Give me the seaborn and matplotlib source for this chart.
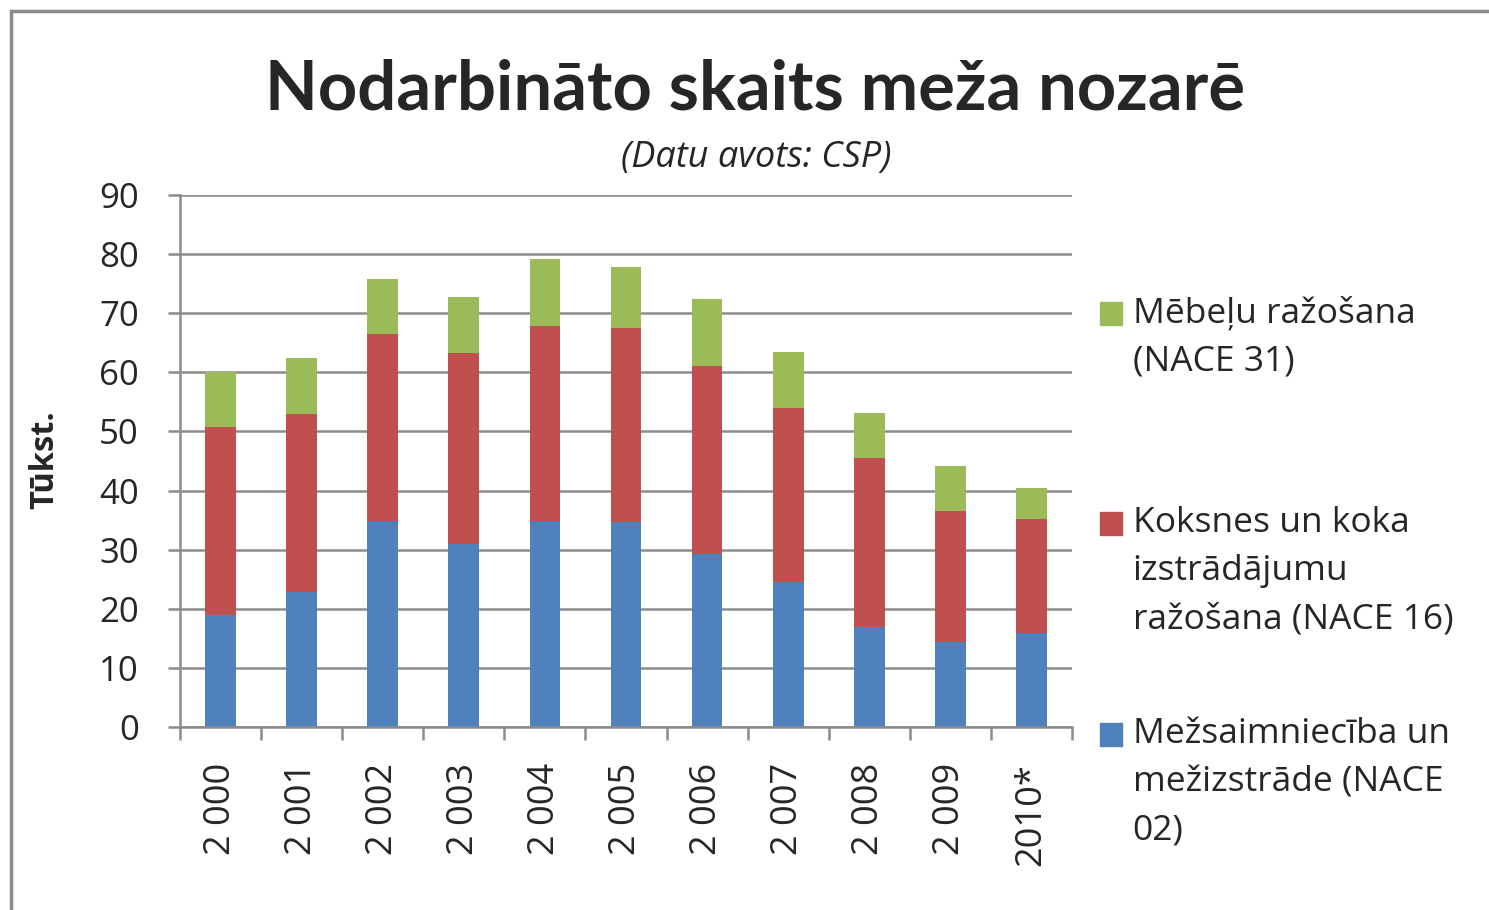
import matplotlib
matplotlib.use('Agg')
from matplotlib import pyplot as plt
from matplotlib.patches import Patch, Rectangle
import seaborn as sns
import pandas as pd

# dati (tūkst. nodarbināto)
gadi = ['2 000', '2 001', '2 002', '2 003', '2 004', '2 005', '2 006', '2 007', '2 008', '2 009', '2010*']
mezsaimnieciba = [18.9, 22.9, 34.9, 30.9, 34.9, 34.6, 29.3, 24.6, 16.9, 14.3, 15.9]   # NACE 02
koksne = [31.9, 30.0, 31.6, 32.3, 32.9, 32.9, 31.8, 29.3, 28.6, 22.2, 19.3]           # NACE 16
mebeles = [9.2, 9.6, 9.25, 9.6, 11.3, 10.3, 11.3, 9.6, 7.6, 7.7, 5.3]                 # NACE 31

nosaukumi = ['Mēbeļu ražošana\n(NACE 31)',
             'Koksnes un koka\nizstrādājumu\nražošana (NACE 16)',
             'Mežsaimniecība un\nmežizstrāde (NACE\n02)']
krasas = ['#9BBB59', '#C0504D', '#4F81BD']

sns.set_theme(style='white')
plt.rcParams['font.family'] = ['Open Sans', 'DejaVu Sans']

df = pd.DataFrame({'gads': gadi, 'blue': mezsaimnieciba, 'red': koksne, 'green': mebeles})
df['l1'] = df['blue']
df['l2'] = df['blue'] + df['red']
df['l3'] = df['l2'] + df['green']

fig = plt.figure(figsize=(14.89, 9.10), dpi=100)
ax = fig.add_axes([180 / 1489, 183 / 910, 892 / 1489, 532 / 910])

# stabiņi uzlikti viens virs otra (kumulatīvi)
for col, c in zip(['l3', 'l2', 'l1'], krasas):
    sns.barplot(data=df, x='gads', y=col, color=c, width=0.38, linewidth=0,
                saturation=1, ax=ax, order=gadi)

ax.set_ylim(0, 90)
ax.set_xlim(-0.5, len(gadi) - 0.5)
ax.set_yticks(range(0, 91, 10))
ax.yaxis.grid(True, color='#8c8c8c', linewidth=1.8)
ax.set_axisbelow(True)
ax.set_xlabel('')
ax.set_ylabel('')
for s in ['top', 'right']:
    ax.spines[s].set_visible(False)
for s in ['left', 'bottom']:
    ax.spines[s].set_color('#8c8c8c')
    ax.spines[s].set_linewidth(1.8)

ax.tick_params(axis='y', which='major', length=8.6, width=1.8, color='#8c8c8c',
               labelsize=25, pad=21, left=True)
ax.tick_params(axis='x', which='major', length=0, labelsize=26, pad=26, rotation=90)
ax.set_xticks([i - 0.5 for i in range(len(gadi) + 1)], minor=True)
ax.tick_params(axis='x', which='minor', length=9.4, width=1.8, color='#8c8c8c', bottom=True)

fig.text(0.507, 0.901, 'Nodarbināto skaits meža nozarē', ha='center', va='center',
         fontsize=49.5, fontweight='bold', family=['Lato', 'DejaVu Sans'])
fig.text(0.508, 0.826, '(Datu avots: CSP)', ha='center', va='center',
         fontsize=26, style='italic')
fig.text(0.030, 0.495, 'Tūkst.', ha='center', va='center', rotation=90,
         fontsize=23.5, fontweight='bold')

# leģenda: katrs ieraksts atsevišķi, kvadrāts pie pirmās rindas
rindas_y = [313, 523, 734]
for nos, c, y in zip(nosaukumi, krasas, rindas_y):
    n = nos.count('\n')
    leg = fig.legend(handles=[Patch(color=c)], labels=['\n' * n + nos],
                     loc='center left', bbox_to_anchor=(1100 / 1489, 1 - y / 910),
                     frameon=False, fontsize=25.5, handlelength=0.62, handleheight=0.62,
                     handletextpad=0.3, borderpad=0, borderaxespad=0)
    for t in leg.get_texts():
        t.set_linespacing(1.55)

# rāmis ap attēlu
fig.patches.append(Rectangle((11 / 1489, -0.1), 1.2, 1.0 - 11 / 910 + 0.1,
                             transform=fig.transFigure, fill=False,
                             edgecolor='#8c8c8c', linewidth=2.5))

plt.savefig('out.png', dpi=100)
